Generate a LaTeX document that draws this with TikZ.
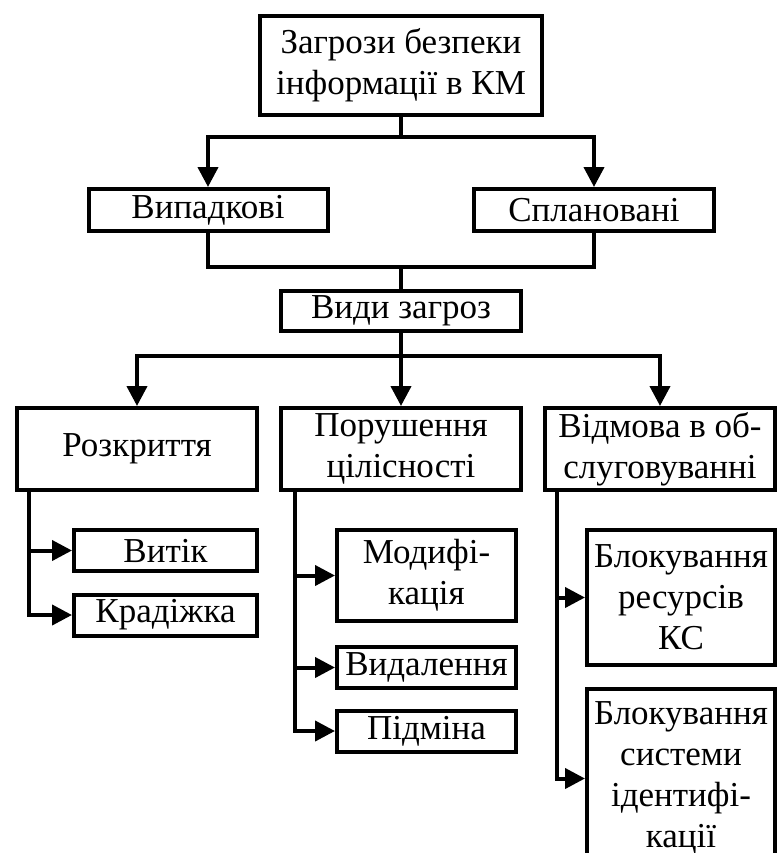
\documentclass[tikz,border=0pt]{standalone}
\usepackage{fontspec}
\setmainfont{Liberation Serif}
\usetikzlibrary{arrows.meta}

\begin{document}
\begin{tikzpicture}[x=0.5pt,y=-0.5pt,
  box/.style={draw,line width=2pt,align=center,inner xsep=2pt,inner ysep=1pt,
    font=\fontsize{17.5}{20.5}\selectfont},
  link/.style={line width=2pt},
  arr/.style={link,-{Triangle[length=10pt,width=10pt]}}]
  % page of 779 x 853 px; the right column runs off its edge
  \clip (0,0) rectangle (779,853);
  \fill[white] (0,0) rectangle (779,853);

  % upper levels
  \node[box,minimum width=141pt,minimum height=49.5pt] (top) at (401,65.5)
    {Загрози безпеки\\інформації в КМ};
  \node[box,minimum width=119.5pt,minimum height=21pt] (vyp) at (208,210) {Випадкові};
  \node[box,minimum width=120pt,minimum height=21pt] (spl) at (594,210) {Сплановані};
  \node[box,minimum width=120pt,minimum height=20pt] (vydy) at (401,311) {Види загроз};

  % three kinds of threat
  \node[box,minimum width=120pt,minimum height=41pt] (rozkr) at (137,449) {Розкриття};
  \node[box,minimum width=120pt,minimum height=41pt] (porush) at (401,449)
    {Порушення\\цілісності};
  \node[box,minimum width=115pt,minimum height=41pt] (vidm) at (660,449)
    {Відмова в об-\\слуговуванні};

  % leaves
  \node[box,minimum width=91.5pt,minimum height=20.5pt] (vytik) at (165.5,550.5) {Витік};
  \node[box,minimum width=91.5pt,minimum height=20.5pt] (kradizh) at (165.5,615) {Крадіжка};
  \node[box,minimum width=89.5pt,minimum height=45.5pt] (modyf) at (426.5,575.5)
    {Модифі-\\кація};
  \node[box,minimum width=89.5pt,minimum height=20.5pt] (vydal) at (426.5,667.5) {Видалення};
  \node[box,minimum width=89.5pt,minimum height=20.5pt] (pidmina) at (426.5,731) {Підміна};
  \node[box,minimum width=94pt,minimum height=67.5pt] (blokres) at (681,597.5)
    {Блокування\\ресурсів\\КС};
  \node[box,minimum width=94pt,minimum height=88.5pt] (bloksys) at (681,777.5)
    {Блокування\\системи\\ідентифі-\\кації};

  % connectors
  \coordinate (j1) at (401,137);
  \draw[arr] (top.south) -- (j1) -| (vyp.north);
  \draw[arr] (j1) -| (spl.north);
  \coordinate (j2) at (401,267);
  \draw[link] (vyp.south) |- (j2) -| (spl.south);
  \draw[link] (j2) -- (vydy.north);
  \coordinate (j3) at (401,356);
  \draw[arr] (vydy.south) -- (j3) -| (rozkr.north);
  \draw[arr] (j3) -- (porush.north);
  \draw[arr] (j3) -| (vidm.north);

  \coordinate (rz) at ([xshift=7pt]rozkr.south west);
  \draw[arr] (rz) |- (vytik.west);
  \draw[arr] (rz) |- (kradizh.west);
  \coordinate (pr) at ([xshift=8pt]porush.south west);
  \draw[arr] (pr) |- (modyf.west);
  \draw[arr] (pr) |- (vydal.west);
  \draw[arr] (pr) |- (pidmina.west);
  \coordinate (vd) at ([xshift=7pt]vidm.south west);
  \draw[arr] (vd) |- (blokres.west);
  \draw[arr] (vd) |- ([yshift=-0.5pt]bloksys.west);
\end{tikzpicture}
\end{document}
